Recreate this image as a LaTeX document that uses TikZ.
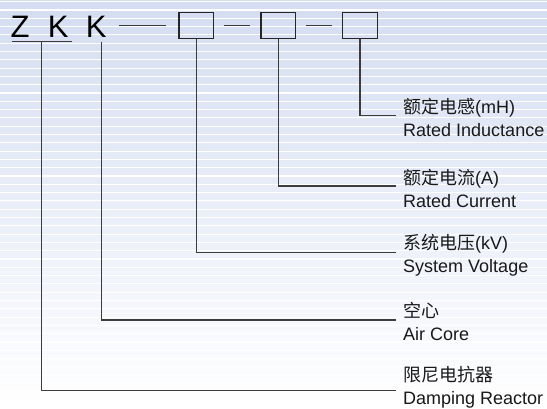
\documentclass[tikz,border=0pt]{standalone}
\usepackage{fontspec}
\setmainfont{Liberation Sans}
\newfontfamily\cjk{Noto Sans CJK SC}
\definecolor{fondo}{HTML}{D4DDF1}
\definecolor{trazo}{HTML}{3C3C3C}

\begin{document}
\begin{tikzpicture}[x=1pt,y=-1pt,
  letra/.style={inner sep=0pt,anchor=base west,font=\fontsize{31}{31}\selectfont},
  casilla/.style={draw=black!85,line width=1.2pt,minimum width=34.5pt,minimum height=26pt,inner sep=0pt},
  raya/.style={draw=trazo,line width=1.2pt},
  etiqueta/.style={inner sep=0pt,anchor=north west,align=left,text=black!90,font=\fontsize{18}{23}\selectfont}]
\useasboundingbox (0,0) rectangle (547,408);
\fill[top color=fondo,bottom color=white] (0,0) rectangle (547,408);
\foreach \y in {1.7,10,...,408}
  \draw[white,line width=1.1pt] (0,\y) -- (547,\y);

\node[letra] (Z) at (10.5,37.3) {Z};
\node[letra] (K1) at (47.7,37.3) {K};
\node[letra] (K2) at (85.7,37.3) {K};
\node[casilla] (b1) at (196.3,25.3) {};
\node[casilla] (b2) at (278.3,25.3) {};
\node[casilla] (b3) at (360,25.3) {};

\node[etiqueta] (l1) at (403,98.5) {{\cjk 额定电感}(mH)\\Rated Inductance};
\node[etiqueta] (l2) at (403,169.5) {{\cjk 额定电流}(A)\\Rated Current};
\node[etiqueta] (l3) at (403,234.5) {{\cjk 系统电压}(kV)\\System Voltage};
\node[etiqueta] (l4) at (403,302.5) {{\cjk 空心}\\Air Core};
\node[etiqueta] (l5) at (403,366.5) {{\cjk 限尼电抗器}\\Damping Reactor};

\foreach \n/\h in {1/115.7,2/186,3/252.7,4/320,5/390.7}
  \coordinate (e\n) at (396,\h);

\draw[raya,line width=1pt] ([xshift=1.5pt,yshift=-4pt]Z.base west) -- ([xshift=3pt,yshift=-4pt]K1.base east) coordinate[pos=.5] (zk);
\coordinate (k) at ([xshift=5pt,yshift=-4pt]K2.south);

\draw[raya,shorten <=12.5pt,shorten >=12.3pt] (K2.east |- b1.west) -- (b1.west);
\draw[raya,shorten <=10pt,shorten >=10pt] (b1) -- (b2);
\draw[raya,shorten <=10pt,shorten >=10pt] (b2) -- (b3);

\draw[raya] (b3.south) |- (e1);
\draw[raya] (b2.south) |- (e2);
\draw[raya] (b1.south) |- (e3);
\draw[raya] (k) |- (e4);
\draw[raya] (zk) |- (e5);
\end{tikzpicture}
\end{document}
